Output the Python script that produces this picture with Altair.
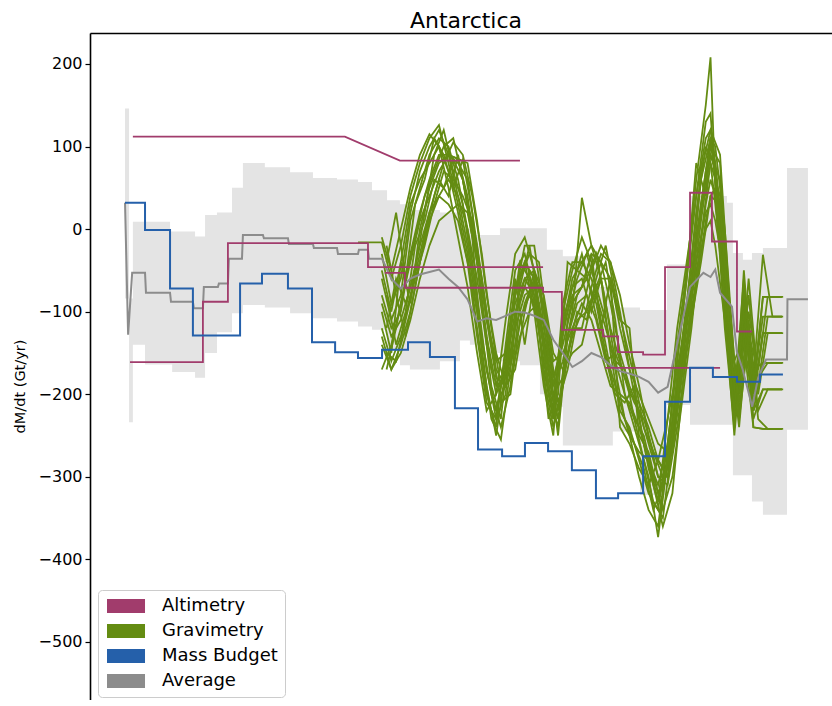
import altair as alt
import pandas as pd

# ---- categories and colours -------------------------------------------------
GROUPS = ["Altimetry", "Gravimetry", "Mass Budget", "Average"]
COLORS = ["#a13c6c", "#648c12", "#2560aa", "#8c8c8c"]
ALT_C, GRAV_C, MB_C, AVG_C = COLORS
BAND_COLOR = "#e4e4e4"

# ---- uncertainty envelope of the average (step-after), Gt/yr ----------------
band_years = [1992.02, 1992.19, 1992.35, 1992.86, 1993.91, 1994.0, 1994.96, 1995.38,
              1995.88, 1996.51, 1996.97, 1997.89, 1998.95, 1999.91, 2000.92, 2001.8,
              2002.39, 2003.02, 2003.56, 2003.98, 2005.24, 2006.08, 2006.5, 2007.34,
              2007.76, 2008.6, 2009.44, 2009.73, 2010.4, 2011.66, 2011.96, 2012.5,
              2013.64, 2014.77, 2015.74, 2017.29, 2017.54, 2017.96, 2018.34, 2018.8,
              2019.81, 2020.69]
band_lo = [-84, -234, -140, -164, -164, -173, -180, -150, -125, -102,
           -92, -95, -102, -108, -112, -118, -122, -146, -165, -170,
           -160, -135, -140, -150, -160, -165, -200, -215, -262, -262,
           -262, -245, -322, -213, -237, -237, -298, -298, -330, -346,
           -243, -243]
band_hi = [146, -84, 9, 9, -3, -3, -9, 17, 20, 50,
           80, 75, 69, 62, 60, 57, 47, 35, 30, 23,
           20, 0, -7, -7, 1, 1, 1, -25, -33, -33,
           -70, -95, -98, -43, 40, 32, -29, -37, -29, -23,
           74, 74]

# ---- mass budget (step-after) ------------------------------------------------
mb_years = [1992.02, 1992.86, 1993.91, 1994.87, 1996.85, 1997.77, 1998.86, 1999.87,
            2000.84, 2001.80, 2002.81, 2003.9, 2004.82, 2005.87, 2006.84, 2007.85,
            2008.81, 2009.78, 2010.78, 2011.79, 2012.72, 2013.77, 2014.69, 2015.74,
            2016.70, 2017.71, 2018.68, 2019.64]
mb_vals = [32, -1, -72, -129, -66, -54, -72, -137, -149, -156,
           -146, -137, -155, -217, -267, -275, -259, -269, -292, -326,
           -320, -275, -209, -168, -179, -185, -176, -176]

# ---- altimetry ---------------------------------------------------------------
alt_a_years = [1992.35, 2001.25, 2003.56, 2008.6]          # linear
alt_a_vals = [112, 112, 83, 83]
alt_b_years = [1992.23, 1995.29, 1996.34, 2002.22, 2009.57]  # steps
alt_b_vals = [-161, -88, -17, -46, -46]
alt_c_years = [2002.93, 2003.77, 2009.57, 2010.36, 2012.09, 2012.72, 2013.77,
               2014.69, 2015.74, 2016.66, 2017.71, 2018.34]
alt_c_vals = [-53, -71, -76, -122, -130, -149, -152, -46, 44, -15, -124, -124]
alt_d_years = [2012.17, 2017.0]
alt_d_vals = [-168, -168]

# ---- average of all techniques -----------------------------------------------
avg_years = [1992.02, 1992.15, 1992.32, 1992.86, 1992.9, 1993.91, 1993.95, 1994.87,
             1994.91, 1995.29, 1995.33, 1995.92, 1995.96, 1996.34, 1996.38, 1996.93,
             1996.97, 1997.81, 1997.85, 1998.86, 1998.9, 1999.91, 1999.95, 2000.92,
             2000.96, 2001.8, 2001.84, 2002.22, 2002.26, 2002.81,
             2003.2, 2003.6, 2004.0, 2004.4, 2004.8, 2005.2, 2005.6, 2006.0, 2006.4,
             2006.8, 2007.2, 2007.6, 2008.0, 2008.4, 2008.8, 2009.2, 2009.6, 2010.0,
             2010.4, 2010.8, 2011.2, 2011.6, 2012.0, 2012.4, 2012.8, 2013.2, 2013.6,
             2014.0, 2014.4, 2014.8, 2015.3, 2015.74, 2016.3, 2016.6, 2016.8, 2017.0,
             2017.5, 2017.71, 2017.95, 2018.35, 2018.6, 2018.93, 2019.81, 2019.83,
             2020.69]
avg_vals = [32, -128, -53, -53, -77, -77, -88, -88, -96, -96,
            -70, -70, -66, -66, -36, -36, -7, -7, -11, -11,
            -18, -18, -23, -23, -30, -30, -25, -25, -36, -36,
            -60, -72, -60, -55, -52, -49, -60, -70, -85, -112,
            -108, -110, -105, -100, -101, -105, -110, -134, -150, -167,
            -160, -150, -155, -165, -172, -175, -179, -185, -198, -191,
            -126, -70, -53, -58, -49, -77, -94, -149, -170, -215,
            -180, -158, -158, -85, -85]

# ---- gravimetry solutions, first set of epochs --------------------------------
grav_years = [2002.8, 2003.2, 2003.6, 2004.0, 2004.4, 2004.8, 2005.2, 2005.6, 2006.0,
              2006.4, 2006.8, 2007.2, 2007.6, 2008.0, 2008.4, 2008.8, 2009.2, 2009.6,
              2010.0, 2010.4, 2010.8, 2011.2, 2011.6, 2012.0, 2012.4, 2012.8, 2013.2,
              2013.6, 2014.0, 2014.4, 2014.8, 2015.2, 2015.6, 2016.0, 2016.4, 2016.6,
              2016.8, 2017.2, 2017.6, 2018.0, 2018.4, 2018.8, 2019.2, 2019.6]
grav = {
    "G1": [-16, -60, -20, 40, 80, 110, 126, 80, 30, -30,
           -120, -200, -240, -140, -50, -30, -80, -170, -230, -90,
           -40, -40, -20, -40, -60, -120, -170, -230, -290, -330,
           -230, -120, -40, 40, 130, 140, 60, -90, -220, -80,
           -190, -82, -82, -82],
    "G2": [-60, -110, -80, 10, 50, 90, 110, 100, 60, 0,
           -80, -170, -220, -160, -80, -40, -60, -140, -210, -120,
           -60, -40, -60, -100, -140, -180, -220, -260, -300, -373,
           -280, -180, -90, 20, 100, 80, 30, -80, -230, -110,
           -200, -126, -126, -126],
    "G3": [-100, -150, -40, -90, 0, 50, 80, 90, 80, 60,
           -20, -110, -180, -190, -110, -60, -50, -100, -180, -140,
           -90, -70, -30, -40, -90, -150, -190, -220, -260, -300,
           -300, -200, -100, -20, 60, 90, 70, -40, -200, -130,
           -220, -162, -162, -162],
    "G4": [-140, -170, -140, -100, -40, 10, 40, 60, 40, 0,
           -60, -140, -200, -170, -100, -70, -90, -160, -230, -110,
           -70, -60, -100, -60, -150, -220, -240, -280, -320, -340,
           -260, -160, -60, 40, 110, 120, 80, -60, -240, -90,
           -230, -194, -194, -194],
    "G5": [-30, -90, -60, 20, 70, 100, 120, 90, 40, -20,
           -100, -190, -250, -170, -80, -20, -20, -100, -190, -160,
           -100, 38, -20, -60, -120, -160, -200, -210, -240, -280,
           -300, -220, -120, -20, 70, 100, 80, -30, -210, -60,
           -240, -242, -242, -242],
    "G6": [-80, -120, -100, -30, 20, 60, 90, 90, 85, 40,
           -40, -130, -190, -180, -120, -80, -70, -130, -200, -180,
           -130, -100, -50, -20, -40, -100, -170, -200, -230, -260,
           -270, -210, -140, -60, 30, 60, 40, -100, -250, -120,
           -180, -31, -106, -106],
    "G7": [-120, -160, -130, -80, -30, 20, 60, 40, 90, 30,
           -20, -100, -170, -190, -140, -90, -60, -90, -160, -150,
           -120, -120, -70, -30, -40, -80, -140, -190, -250, -300,
           -310, -240, -150, -70, 10, 40, 50, -70, -190, -100,
           -210, -126, -126, -126],
    "G8": [-170, -140, -90, -40, 10, 40, 70, 90, 85, 80,
           10, -80, -150, -190, -170, -100, -50, -80, -150, -170,
           -150, -140, -90, -60, -60, -110, -120, -250, -270, -320,
           -290, -190, -100, -10, 70, 110, 100, 0, -160, -130,
           -170, -162, -162, -162],
    "G9": [-50, -100, -40, 30, 60, 80, 100, 70, 20, -40,
           -130, -210, -230, -150, -70, -40, -100, -190, -250, -100,
           -50, -10, -40, -110, -170, -210, -250, -300, -340, -360,
           -270, -140, -50, 60, 150, 208, 50, -120, -240, -50,
           -200, -82, -82, -82],
    "G10": [-10, -50, 0, 50, 90, 115, 100, 50, -10, -70,
            -150, -220, -200, -110, -30, -10, -50, -150, -220, -130,
            -70, -30, -80, -130, -180, -230, -250, -270, -280, -310,
            -260, -160, -60, 80, 40, 110, 60, -90, -230, -70,
            -220, -194, -194, -194],
    "G11": [-90, -130, -110, -70, -20, 20, 40, 30, 10, -40,
            -100, -170, -230, -200, -60, -140, -60, -180, -240, -190,
            -120, -90, -110, -150, -190, -200, -210, -240, -280, -330,
            -280, -180, -110, -40, 20, 30, 10, -60, -200, -140,
            -240, -242, -242, -242],
    "G12": [-130, -170, -150, -110, -60, -20, 10, 20, 30, 20,
            -40, -110, -160, -150, -90, -60, -80, -140, -190, -120,
            -80, -70, -30, -120, -60, -240, -260, -290, -310, -280,
            -230, -170, -110, -50, 0, 10, -20, -110, -220, -100,
            -190, -106, -106, -106],
}

# ---- gravimetry solutions, second set of epochs -------------------------------
grav2_years = [2003.0, 2003.4, 2003.8, 2004.2, 2004.6, 2005.0, 2005.4, 2005.8, 2006.2,
               2006.6, 2007.0, 2007.4, 2007.8, 2008.2, 2008.6, 2009.0, 2009.4, 2009.8,
               2010.2, 2010.6, 2011.0, 2011.4, 2011.8, 2012.2, 2012.6, 2013.0, 2013.4,
               2013.8, 2014.2, 2014.6, 2015.0, 2015.4, 2015.8, 2016.2, 2016.6, 2017.0,
               2017.4, 2017.8, 2018.2, 2018.6, 2019.0, 2019.4, 2019.65]
grav2 = {
    "H1": [-40, 20, -60, 30, 60, 110, 90, 50, 84, 20,
           -90, -190, -230, -120, -40, -60, -120, -230, -200, -40,
           -50, -60, -30, -90, -160, -170, -230, -280, -330, -350,
           -260, -160, -60, 60, 110, 20, -150, -200, -60, -190,
           -106, -106, -106],
    "H2": [-170, -120, -60, -10, 40, 70, 100, 110, 60, -10,
           -150, -230, -255, -170, -70, -20, -90, -200, -240, -110,
           -60, -30, -70, -40, -110, -200, -230, -250, -300, -340,
           -300, -210, -120, -10, 80, 40, -140, -240, -110, -220,
           -194, -194, -194],
    "H3": [-80, -140, -100, -20, 10, 60, 50, 84, 60, 0,
           -60, -140, -210, -200, -110, -80, -110, -170, -230, -150,
           -100, -110, -60, -20, -80, -130, -180, -240, -270, -300,
           -270, -180, -90, 10, 90, 60, -110, -220, -120, -230,
           -242, -242, -242],
    "H4": [-120, -60, -90, -50, 20, 90, 120, 70, 30, -50,
           -130, -200, -240, -190, -90, -50, -70, -160, -250, -130,
           -80, -60, -90, -150, -200, -210, -190, -260, -310, -360,
           -320, -200, -80, 30, 100, 80, -130, -190, -80, -200,
           -126, -126, -126],
    "H5": [-20, -80, -130, -70, -10, 40, 80, 105, 90, 40,
           -30, -120, -190, -160, -60, -30, -40, -130, -210, -170,
           -110, -100, -70, -110, -170, -230, -260, -290, -340, -310,
           -250, -150, -40, 70, 120, 90, -90, -230, -130, -170,
           -82, -82, -82],
    "H6": [-150, -160, -110, -60, -20, 30, 70, 60, 40, 10,
           -90, -170, -200, -180, -130, -100, -90, -150, -220, -130,
           -90, -80, -110, -160, -150, -180, -210, -230, -270, -290,
           -240, -170, -110, -40, 40, 30, -120, -210, -100, -180,
           -162, -162, -162],
}
# the first solution is carried back to the end of the pre-GRACE record
grav_lead_year = 2001.8
grav_lead_val = -16

# ---- axis settings ------------------------------------------------------------
X_DOMAIN = [1990.55, 2021.70]
Y_DOMAIN = [-570.3, 237.5]
Y_TICKS = [-500, -400, -300, -200, -100, 0, 100, 200]
FONT = "DejaVu Sans"


def rows(years, vals, line):
    return [{"year": y, "value": v, "line": line} for y, v in zip(years, vals)]


band_df = pd.DataFrame({"year": band_years, "lo": band_lo, "hi": band_hi})

grav_rows = rows([grav_lead_year], [grav_lead_val], "G1")
for name, vals in grav.items():
    grav_rows += rows(grav_years, vals, name)
for name, vals in grav2.items():
    grav_rows += rows(grav2_years, vals, name)
grav_df = pd.DataFrame(grav_rows)

avg_df = pd.DataFrame(rows(avg_years, avg_vals, "avg"))
alt_lin_df = pd.DataFrame(rows(alt_a_years, alt_a_vals, "A1"))
alt_step_df = pd.DataFrame(
    rows(alt_b_years, alt_b_vals, "A2")
    + rows(alt_c_years, alt_c_vals, "A3")
    + rows(alt_d_years, alt_d_vals, "A4")
)
mb_df = pd.DataFrame(rows(mb_years, mb_vals, "MB"))
# one entry per category, placed left of the visible range; only feeds the legend
key_df = pd.DataFrame({"year": [1980.0] * 4, "value": [0] * 4, "group": GROUPS})

x_scale = alt.Scale(domain=X_DOMAIN, nice=False, zero=False)
y_scale = alt.Scale(domain=Y_DOMAIN, nice=False, zero=False)
color_scale = alt.Scale(domain=GROUPS, range=COLORS)

x_axis = alt.Axis(orient="top", labels=False, ticks=False, grid=False, title=None,
                  domainColor="black", domainWidth=1.6)
y_axis = alt.Axis(values=Y_TICKS, grid=False, labelFont=FONT, labelFontSize=16,
                  labelColor="black", labelPadding=3, tickColor="black", tickSize=5,
                  tickWidth=1.2, domainColor="black", domainWidth=1.6,
                  title="dM/dt (Gt/yr)", titleFont=FONT, titleFontSize=14.5,
                  titleFontWeight="normal", titleColor="black", titleAngle=270,
                  titleX=-70, titleY=353, titleAlign="center", titleBaseline="middle")

X = alt.X("year:Q", scale=x_scale, axis=x_axis)
Y = alt.Y("value:Q", scale=y_scale, axis=y_axis)

band = alt.Chart(band_df).mark_area(interpolate="step-after", color=BAND_COLOR,
                                    clip=True).encode(
    x=X, y=alt.Y("lo:Q", scale=y_scale, axis=y_axis), y2="hi:Q")

grav_lines = alt.Chart(grav_df).mark_line(strokeWidth=1.8, color=GRAV_C, clip=True).encode(
    x=X, y=Y, detail="line:N")

avg_line = alt.Chart(avg_df).mark_line(strokeWidth=2, color=AVG_C, clip=True).encode(
    x=X, y=Y)

alt_lin = alt.Chart(alt_lin_df).mark_line(strokeWidth=1.8, color=ALT_C, clip=True).encode(
    x=X, y=Y)

alt_step = alt.Chart(alt_step_df).mark_line(strokeWidth=1.8, color=ALT_C,
                                            interpolate="step-after", clip=True).encode(
    x=X, y=Y, detail="line:N")

mb_line = alt.Chart(mb_df).mark_line(strokeWidth=2, color=MB_C, interpolate="step-after",
                                     clip=True).encode(
    x=X, y=Y)

legend = alt.Legend(title=None, orient="none", legendX=8, legendY=557,
                    direction="vertical", symbolType="M-1,-1H4.43V1H-1Z",
                    symbolSize=196, symbolStrokeWidth=0, symbolOpacity=1,
                    labelFont=FONT, labelFontSize=18, labelColor="black",
                    labelOffset=39, rowPadding=7, padding=7,
                    strokeColor="#cccccc", cornerRadius=4, fillColor="white")

key = alt.Chart(key_df).mark_point(filled=True, opacity=1, size=196, clip=True).encode(
    x=X, y=Y, color=alt.Color("group:N", scale=color_scale, legend=legend))

chart = alt.layer(key, band, grav_lines, avg_line, alt_lin, alt_step, mb_line).properties(
    width=742,
    height=667,
    autosize=alt.AutoSizeParams(type="none"),
    padding={"left": 90, "top": 33, "right": 0, "bottom": 0},
    title=alt.TitleParams("Antarctica", font=FONT, fontSize=22, fontWeight="normal",
                          color="black", anchor="middle", offset=-17, dx=5,
                          baseline="alphabetic"),
).configure_view(stroke=None).configure_axis(
    titleFont=FONT, titleFontSize=14.5, titleFontWeight="normal", labelFont=FONT,
    labelFontSize=16,
).configure(background="white")

chart.save("out.html", embed_options={"renderer": "svg", "actions": False})
